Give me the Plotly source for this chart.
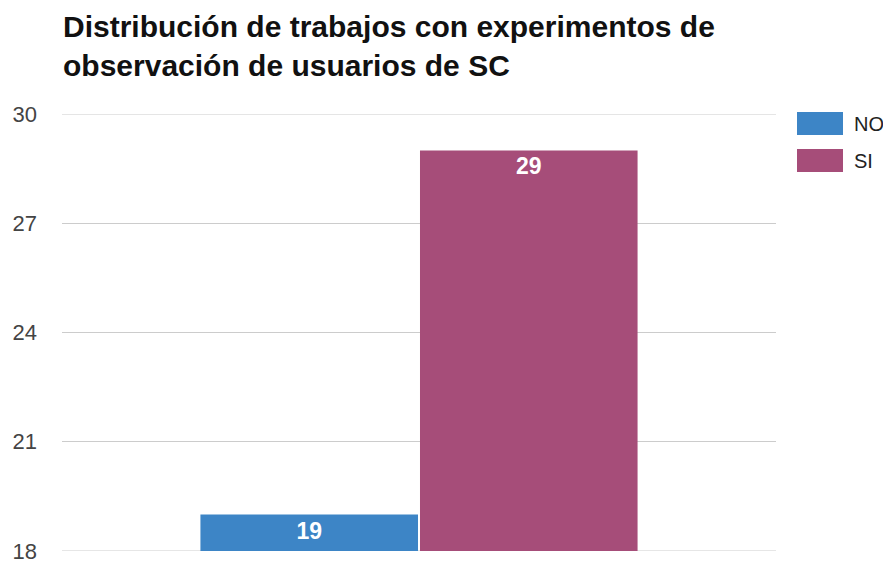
import plotly.graph_objects as go

categories = [""]
series_names = ["NO", "SI"]
series_values = [[19], [29]]
series_colors = ["#3d85c6", "#a64d79"]
y_ticks = [18, 21, 24, 27, 30]
title_lines = ["Distribución de trabajos con experimentos de", "observación de usuarios de SC"]

# page body has an 8px default margin; lay out in figure coords = reference - 8
OFF = 8
W, H = 891 - OFF, 563 - OFF
L, T = 62 - OFF, 114 - OFF
R = W - (776 - OFF)
B = H - (551 - OFF)
PW, PH = W - L - R, H - T - B

FONT = "Liberation Sans, Arial, sans-serif"
GRID = "#cccccc"


def px_x(x):  # reference x px -> paper
    return (x - OFF - L) / PW


def px_y(y):  # reference y px -> paper
    return 1 - (y - OFF - T) / PH


fig = go.Figure()
for name, vals, col in zip(series_names, series_values, series_colors):
    fig.add_trace(go.Bar(
        x=categories, y=vals, name=name,
        marker=dict(color=col, line=dict(width=0)),
        text=[str(v) for v in vals],
        textposition="inside", insidetextanchor="end",
        textfont=dict(family=FONT, size=23, color="white", weight="bold"),
        constraintext="none",
        showlegend=False,
        cliponaxis=True,
    ))

fig.update_layout(
    width=W, height=H,
    margin=dict(l=L, r=R, t=T, b=B, pad=0, autoexpand=False),
    paper_bgcolor="white", plot_bgcolor="white",
    barmode="group", bargap=0.385, bargroupgap=0.009,
    xaxis=dict(showticklabels=False, showgrid=False, zeroline=False, showline=False,
               automargin=False),
    yaxis=dict(
        range=[y_ticks[0], y_ticks[-1]], tickvals=y_ticks, ticktext=[str(t) for t in y_ticks],
        showgrid=True, gridcolor=GRID, gridwidth=1, zeroline=False, showline=False,
        tickfont=dict(family=FONT, size=22, color="#444"),
        ticklabelstandoff=24, automargin=False, ticklabeloverflow="allow",
    ),
)

# Plotly drops grid lines at the exact range ends; draw those two on the y scale
for v in (y_ticks[0], y_ticks[-1]):
    fig.add_shape(type="line", xref="paper", yref="y", x0=0, x1=1, y0=v, y1=v,
                  line=dict(color=GRID, width=1), layer="below")

# Title as an annotation (two lines)
fig.add_annotation(xref="paper", yref="paper", x=px_x(61), y=px_y(8),
                   xanchor="left", yanchor="top", align="left", showarrow=False,
                   text="<b>" + "<br>".join(title_lines) + "</b>",
                   font=dict(family=FONT, size=30, color="#111"))

# Custom legend (large swatches like the reference)
for i, (name, col) in enumerate(zip(series_names, series_colors)):
    top = 112 + i * 37
    fig.add_shape(type="rect", xref="paper", yref="paper",
                  x0=px_x(797), x1=px_x(843), y0=px_y(top + 23), y1=px_y(top),
                  fillcolor=col, line=dict(width=0))
    fig.add_annotation(xref="paper", yref="paper",
                       x=px_x(852), y=px_y(top + 11.5),
                       text=name, showarrow=False, xanchor="left", yanchor="middle",
                       font=dict(family=FONT, size=20, color="#222"))

fig.write_html("out.html")
